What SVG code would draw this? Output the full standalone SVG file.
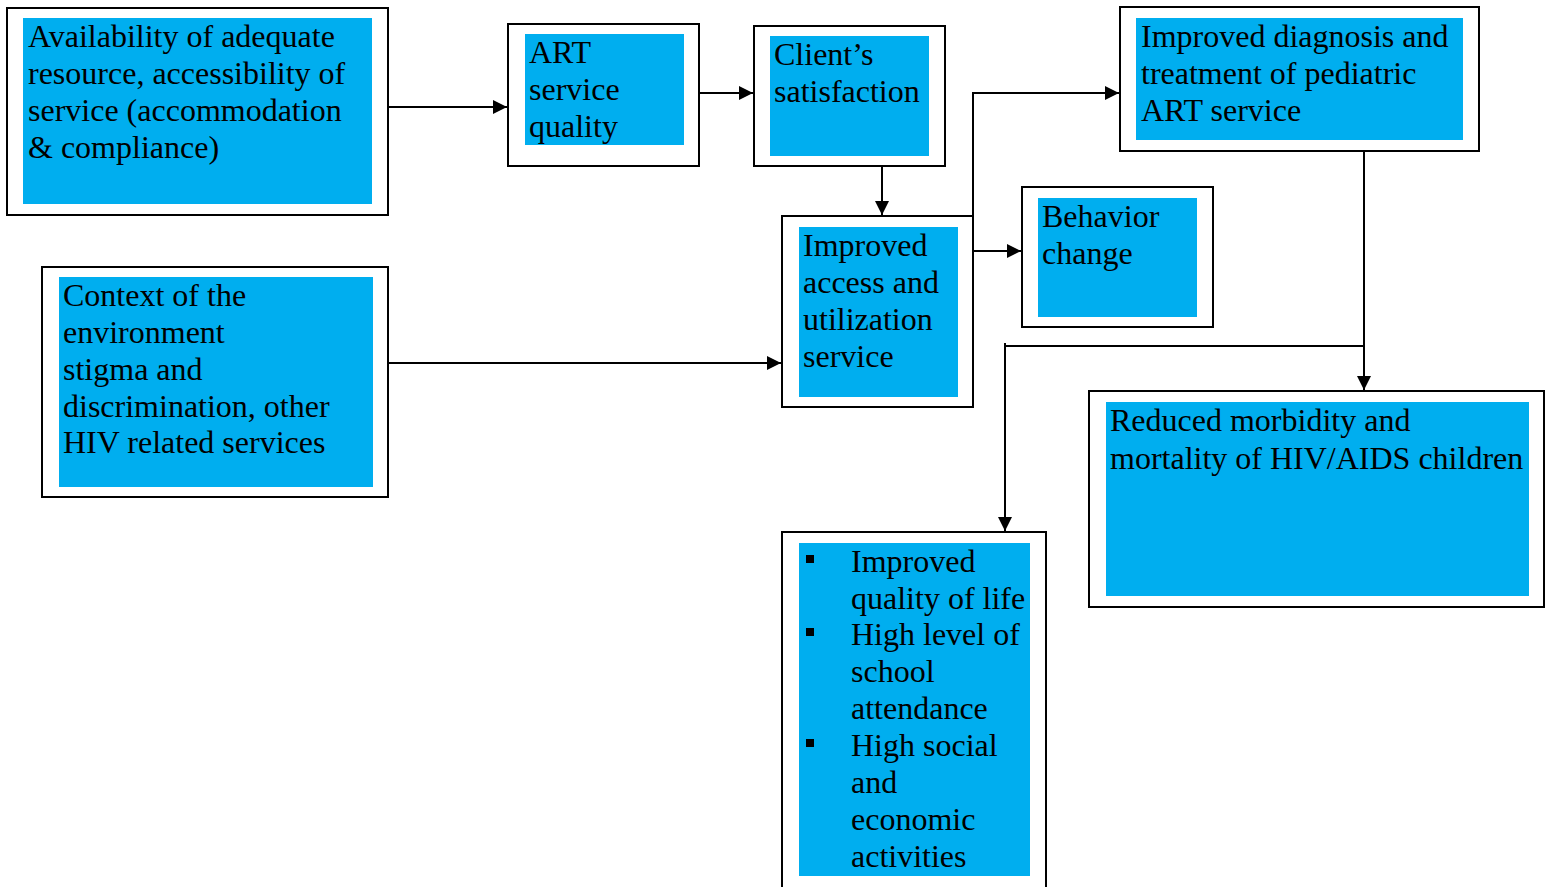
<svg xmlns="http://www.w3.org/2000/svg" width="1545" height="887" viewBox="0 0 1545 887">
<style>
.outer{fill:#fff;stroke:#000;stroke-width:2}
.inner{fill:#00AEEF;stroke:none}
.t{font-family:"Liberation Serif","Times New Roman",serif;font-size:32px;fill:#000}
.c{fill:none;stroke:#000;stroke-width:2}
</style>
<defs>
<marker id="ah" markerWidth="14" markerHeight="14" refX="14" refY="7" orient="auto" markerUnits="userSpaceOnUse">
<path d="M0,0 L14,7 L0,14 Z" fill="#000"/>
</marker>
</defs>
<rect width="1545" height="887" fill="#fff"/>
<g id="connectors">
<path class="c" d="M388,107 H507" marker-end="url(#ah)"/>
<path class="c" d="M699,93 H753" marker-end="url(#ah)"/>
<path class="c" d="M882,166 V215" marker-end="url(#ah)"/>
<path class="c" d="M388,363 H781" marker-end="url(#ah)"/>
<path class="c" d="M973,251 H1021" marker-end="url(#ah)"/>
<path class="c" d="M973,216 V93 H1119" marker-end="url(#ah)"/>
<path class="c" d="M1364,151 V390" marker-end="url(#ah)"/>
<path class="c" d="M1364,346 H1005 M1005,343 V531" marker-end="url(#ah)"/>
</g>
<g id="n1">
<rect class="outer" x="7" y="8" width="381" height="207"/>
<rect class="inner" x="23" y="18" width="349" height="186"/>
<text class="t" x="28" y="47">Availability of adequate</text>
<text class="t" x="28" y="84">resource, accessibility of</text>
<text class="t" x="28" y="121">service (accommodation</text>
<text class="t" x="28" y="158">&amp; compliance)</text>
</g>
<g id="n2">
<rect class="outer" x="508" y="24" width="191" height="142"/>
<rect class="inner" x="525" y="34" width="159" height="111"/>
<text class="t" x="529" y="63">ART</text>
<text class="t" x="529" y="100">service</text>
<text class="t" x="529" y="137">quality</text>
</g>
<g id="n3">
<rect class="outer" x="754" y="26" width="191" height="140"/>
<rect class="inner" x="770" y="36" width="159" height="120"/>
<text class="t" x="774" y="65">Client’s</text>
<text class="t" x="774" y="102">satisfaction</text>
</g>
<g id="n4">
<rect class="outer" x="1120" y="7" width="359" height="144"/>
<rect class="inner" x="1136" y="18" width="327" height="122"/>
<text class="t" x="1141" y="47">Improved diagnosis and</text>
<text class="t" x="1141" y="84">treatment of pediatric</text>
<text class="t" x="1141" y="121">ART service</text>
</g>
<g id="n5">
<rect class="outer" x="1022" y="187" width="191" height="140"/>
<rect class="inner" x="1038" y="198" width="159" height="119"/>
<text class="t" x="1042" y="227">Behavior</text>
<text class="t" x="1042" y="264">change</text>
</g>
<g id="n6">
<rect class="outer" x="782" y="216" width="191" height="191"/>
<rect class="inner" x="799" y="227" width="159" height="170"/>
<text class="t" x="803" y="256">Improved</text>
<text class="t" x="803" y="293">access and</text>
<text class="t" x="803" y="330">utilization</text>
<text class="t" x="803" y="367">service</text>
</g>
<g id="n7">
<rect class="outer" x="42" y="267" width="346" height="230"/>
<rect class="inner" x="59" y="277" width="314" height="210"/>
<text class="t" x="63" y="306">Context of the</text>
<text class="t" x="63" y="343">environment</text>
<text class="t" x="63" y="380">stigma and</text>
<text class="t" x="63" y="417">discrimination, other</text>
<text class="t" x="63" y="453">HIV related services</text>
</g>
<g id="n8">
<rect class="outer" x="1089" y="391" width="455" height="216"/>
<rect class="inner" x="1106" y="402" width="423" height="194"/>
<text class="t" x="1110" y="431">Reduced morbidity and</text>
<text class="t" x="1110" y="469">mortality of HIV/AIDS children</text>
</g>
<g id="n9">
<rect class="outer" x="782" y="532" width="264" height="360"/>
<rect class="inner" x="799" y="543" width="231" height="333"/>
<rect x="806" y="555" width="8" height="8" fill="#000"/>
<rect x="806" y="628" width="8" height="8" fill="#000"/>
<rect x="806" y="739" width="8" height="8" fill="#000"/>
<text class="t" x="851" y="572">Improved</text>
<text class="t" x="851" y="609">quality of life</text>
<text class="t" x="851" y="645">High level of</text>
<text class="t" x="851" y="682">school</text>
<text class="t" x="851" y="719">attendance</text>
<text class="t" x="851" y="756">High social</text>
<text class="t" x="851" y="793">and</text>
<text class="t" x="851" y="830">economic</text>
<text class="t" x="851" y="867">activities</text>
</g>
</svg>
